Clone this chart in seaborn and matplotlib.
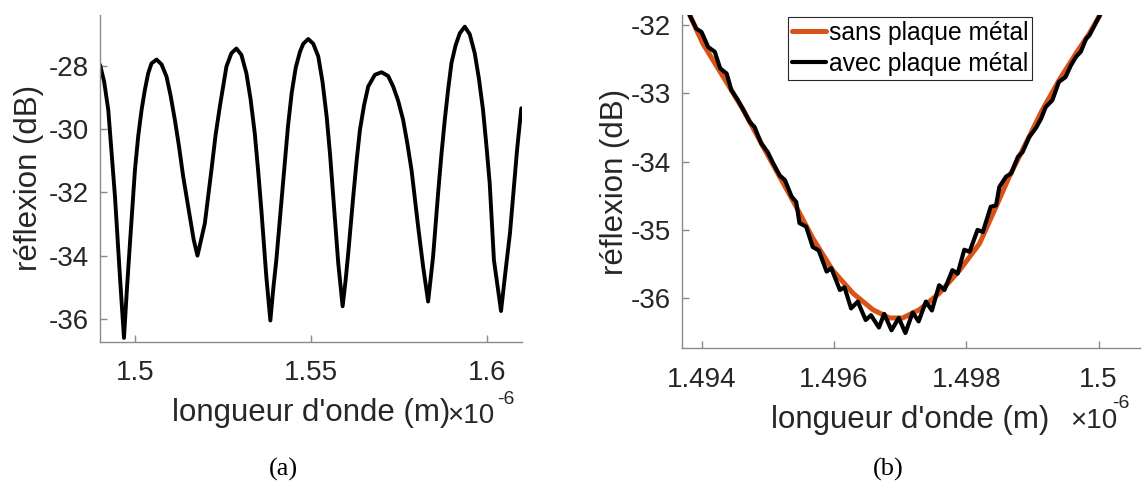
import matplotlib
matplotlib.use("Agg")
import matplotlib.pyplot as plt
import seaborn as sns

# (a) large-range spectrum, wavelength in units of 1e-6 m
wl_a = [1.4901, 1.49125, 1.49242, 1.49433, 1.49574, 1.49688, 1.49775, 1.49858, 1.5, 1.50095,
        1.50189, 1.50283, 1.50377, 1.50471, 1.50614, 1.50755, 1.50898, 1.51015, 1.51135, 1.51253,
        1.51371, 1.51561, 1.5167, 1.51777, 1.51986, 1.52174, 1.5229, 1.52412, 1.526, 1.52741,
        1.52883, 1.53025, 1.53167, 1.53286, 1.53405, 1.535, 1.53593, 1.53734, 1.53848, 1.53935,
        1.54018, 1.54208, 1.5435, 1.54455, 1.5457, 1.54691, 1.54784, 1.54926, 1.55068, 1.5521,
        1.5533, 1.55448, 1.55545, 1.55636, 1.55778, 1.55902, 1.55985, 1.56061, 1.56203, 1.563,
        1.56393, 1.5651, 1.56629, 1.56819, 1.57009, 1.57197, 1.57338, 1.5748, 1.57622, 1.57741,
        1.5786, 1.58048, 1.5819, 1.58332, 1.58473, 1.58615, 1.5871, 1.58805, 1.589, 1.58995,
        1.59113, 1.59231, 1.59373, 1.59515, 1.59657, 1.59775, 1.59892, 1.59987, 1.60082, 1.60202,
        1.60404, 1.6053, 1.60657, 1.60859, 1.6098]
refl_a = [-27.97, -28.5, -29.39, -32.14, -34.67, -36.6, -35.0, -33.61, -31.29, -30.2,
          -29.39, -28.75, -28.23, -27.92, -27.8, -27.95, -28.34, -28.95, -29.71, -30.55,
          -31.5, -32.77, -33.5, -34.0, -32.98, -31.29, -30.2, -29.29, -28.02, -27.6,
          -27.45, -27.65, -28.23, -29.05, -30.13, -31.3, -32.56, -34.67, -36.05, -35.0,
          -34.14, -31.71, -29.9, -28.85, -28.05, -27.55, -27.3, -27.15, -27.3, -27.7,
          -28.5, -29.6, -30.8, -32.14, -34.24, -35.6, -34.8, -33.93, -32.14, -31.0,
          -30.03, -29.25, -28.65, -28.28, -28.2, -28.32, -28.65, -29.1, -29.71, -30.45,
          -31.29, -33.08, -34.35, -35.45, -34.03, -32.03, -30.8, -29.71, -28.75, -27.91,
          -27.35, -26.97, -26.76, -27.0, -27.6, -28.4, -29.39, -30.5, -31.71, -34.14,
          -35.75, -34.5, -33.3, -30.66, -29.34]

# (b) zoom on one dip
wl_sans = [1.49382, 1.49402, 1.49433, 1.49463, 1.49493, 1.49518, 1.49543, 1.49568, 1.49598, 1.49629,
           1.49659, 1.49684, 1.49704, 1.49729, 1.49759, 1.4979, 1.4982, 1.49845, 1.49865, 1.4989,
           1.49915, 1.4994, 1.49966, 1.49986, 1.50002]
refl_sans = [-31.85, -32.27, -32.76, -33.24, -33.78, -34.22, -34.66, -35.12, -35.59, -35.93,
             -36.17, -36.29, -36.29, -36.17, -35.93, -35.59, -35.2, -34.66, -34.22, -33.73,
             -33.24, -32.81, -32.41, -32.12, -31.85]

wl_avec = [1.49382, 1.49392, 1.494, 1.4941, 1.4942, 1.49428, 1.49438, 1.49445, 1.49455, 1.49463,
           1.49473, 1.4948, 1.4949, 1.495, 1.49508, 1.49518, 1.49526, 1.49536, 1.49543, 1.49548,
           1.49558, 1.49568, 1.49577, 1.49589, 1.49596, 1.49609, 1.49616, 1.49626, 1.49636, 1.49648,
           1.49656, 1.49668, 1.49676, 1.49687, 1.49698, 1.49708, 1.49719, 1.49728, 1.49739, 1.49748,
           1.49759, 1.49767, 1.49779, 1.49787, 1.49797, 1.49805, 1.49817, 1.49825, 1.49837, 1.49845,
           1.4985, 1.4986, 1.49868, 1.49878, 1.49885, 1.49895, 1.49905, 1.49913, 1.4992, 1.4993,
           1.4994, 1.4995, 1.49958, 1.49966, 1.49973, 1.49981, 1.49986, 1.50002]
refl_avec = [-31.85, -32.05, -32.1, -32.32, -32.39, -32.63, -32.71, -32.95, -33.1, -33.24,
             -33.42, -33.49, -33.73, -33.86, -34.02, -34.2, -34.27, -34.51, -34.59, -34.9,
             -34.95, -35.25, -35.3, -35.61, -35.56, -35.88, -35.84, -36.15, -36.05, -36.32,
             -36.25, -36.43, -36.23, -36.47, -36.29, -36.51, -36.21, -36.34, -36.05, -36.18,
             -35.81, -35.88, -35.59, -35.64, -35.29, -35.32, -35.0, -35.03, -34.66, -34.64,
             -34.37, -34.22, -34.17, -33.93, -33.86, -33.64, -33.51, -33.37, -33.2, -33.1,
             -32.83, -32.76, -32.59, -32.46, -32.39, -32.2, -32.15, -31.85]

ticks_a_x = [1.5, 1.55, 1.6]
ticks_a_y = [-36, -34, -32, -30, -28]
ticks_b_x = [1.494, 1.496, 1.498, 1.5]
ticks_b_y = [-36, -35, -34, -33, -32]

sns.set_theme(style="white")
plt.rcParams['font.family'] = ['Liberation Sans', 'DejaVu Sans']
plt.rcParams['axes.unicode_minus'] = False

TXT = '#262626'
AX = '#8a8a8a'
ORANGE = '#D95319'

fig = plt.figure(figsize=(11.44, 4.88), dpi=100)
ax_a = fig.add_axes([0.0872, 0.2998, 0.3691, 0.6695])
ax_b = fig.add_axes([0.5959, 0.2869, 0.4003, 0.6824])

sns.lineplot(x=wl_a, y=refl_a, ax=ax_a, color='black', lw=2.8, estimator=None, sort=False,
             solid_joinstyle='round')
sns.lineplot(x=wl_sans, y=refl_sans, ax=ax_b, color=ORANGE, lw=3.6, estimator=None, sort=False,
             solid_joinstyle='round', label='sans plaque métal')
sns.lineplot(x=wl_avec, y=refl_avec, ax=ax_b, color='black', lw=3.0, estimator=None, sort=False,
             solid_joinstyle='round', label='avec plaque métal')

ax_a.set_xlim(1.49, 1.61)
ax_a.set_ylim(-36.72, -26.39)
ax_b.set_xlim(1.4937, 1.50062)
ax_b.set_ylim(-36.73, -31.85)

for ax, xt, yt in [(ax_a, ticks_a_x, ticks_a_y), (ax_b, ticks_b_x, ticks_b_y)]:
    ax.set_xticks(xt)
    ax.set_xticklabels([f"{v:g}" for v in xt])
    ax.set_yticks(yt)
    ax.set_yticklabels([f"{v:g}" for v in yt])
    for s in ['top', 'right']:
        ax.spines[s].set_visible(False)
    for s in ['left', 'bottom']:
        ax.spines[s].set_color(AX)
        ax.spines[s].set_linewidth(1.0)
    ax.tick_params(direction='in', length=5, width=1.0, color=AX, labelsize=20,
                   labelcolor=TXT, bottom=True, left=True)
    ax.tick_params(axis='y', pad=8)
    ax.set_xlabel("longueur d'onde (m)", fontsize=22.5, color=TXT)
    ax.set_ylabel("réflexion (dB)", fontsize=22.5, color=TXT)
    ax.xaxis.label.set_va('center')
    ax.yaxis.label.set_va('center')

ax_a.tick_params(axis='x', pad=13)
ax_b.tick_params(axis='x', pad=14)
ax_a.xaxis.set_label_coords(0.5, -0.218)
ax_a.yaxis.set_label_coords(-0.168, 0.5)
ax_b.xaxis.set_label_coords(0.5, -0.216)
ax_b.yaxis.set_label_coords(-0.146, 0.5)

leg = ax_b.legend(loc='upper left', bbox_to_anchor=(0.232, 0.994), borderaxespad=0,
                  fontsize=17.7, frameon=True, fancybox=False, framealpha=1,
                  edgecolor=TXT, handlelength=1.4, handletextpad=0.1,
                  borderpad=0.15, labelspacing=0.3)
leg.get_frame().set_linewidth(0.8)
for t in leg.get_texts():
    t.set_color('black')

# exponent labels
fig.text(447 / 1144, 1 - 416 / 488, "×10", fontsize=20, color=TXT, ha='left', va='center')
fig.text(497 / 1144, 1 - 400 / 488, "-6", fontsize=14, color=TXT, ha='left', va='center')
fig.text(1070 / 1144, 1 - 421 / 488, "×10", fontsize=20, color=TXT, ha='left', va='center')
fig.text(1112 / 1144, 1 - 403 / 488, "-6", fontsize=14, color=TXT, ha='left', va='center')

# panel captions
fig.text(283 / 1144, 1 - 469 / 488, "(a)", fontsize=19, family=['Liberation Serif'],
         ha='center', va='center', color='black')
fig.text(888 / 1144, 1 - 469 / 488, "(b)", fontsize=19, family=['Liberation Serif'],
         ha='center', va='center', color='black')

fig.savefig("out.png", dpi=100)
